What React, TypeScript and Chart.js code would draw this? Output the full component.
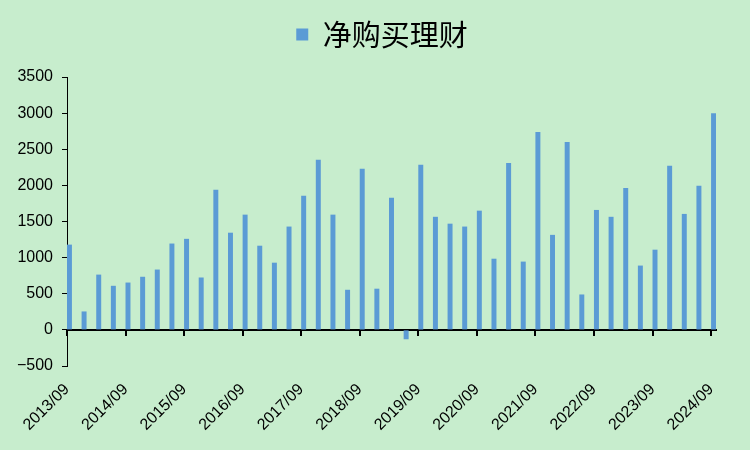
import React, { useEffect, useRef } from 'react';
import { Chart, registerables } from 'chart.js';

Chart.register(...registerables);

const seriesName = '净购买理财';

const quarters = [
  '2013/09', '2013/12',
  '2014/03', '2014/06', '2014/09', '2014/12',
  '2015/03', '2015/06', '2015/09', '2015/12',
  '2016/03', '2016/06', '2016/09', '2016/12',
  '2017/03', '2017/06', '2017/09', '2017/12',
  '2018/03', '2018/06', '2018/09', '2018/12',
  '2019/03', '2019/06', '2019/09', '2019/12',
  '2020/03', '2020/06', '2020/09', '2020/12',
  '2021/03', '2021/06', '2021/09', '2021/12',
  '2022/03', '2022/06', '2022/09', '2022/12',
  '2023/03', '2023/06', '2023/09', '2023/12',
  '2024/03', '2024/06', '2024/09',
];

const netPurchase = [
  1180, 255,
  765, 610, 655, 735,
  835, 1195, 1260, 725,
  1940, 1345, 1595, 1165,
  930, 1430, 1855, 2355,
  1595, 555, 2230, 570,
  1830, -130, 2285, 1565,
  1470, 1430, 1650, 985,
  2310, 945, 2740, 1315,
  2600, 490, 1660, 1565,
  1965, 890, 1110, 2270,
  1605, 1995, 3000,
];

const tickLabels = [
  '2013/09', '2014/09', '2015/09', '2016/09', '2017/09', '2018/09',
  '2019/09', '2020/09', '2021/09', '2022/09', '2023/09', '2024/09',
];

const yMin = -500;
const yMax = 3500;
const yStep = 500;

const BG = '#C7EDCD';
const BAR = '#5B9BD5';
const TICK_FONT = { family: '"Liberation Sans", Arial, sans-serif', size: 16 };

// month offset from the first quarter label (date axis, one-month base unit)
const monthIndex = (label: string) => {
  const [y, m] = label.split('/').map(Number);
  const [y0, m0] = quarters[0].split('/').map(Number);
  return (y - y0) * 12 + (m - m0);
};

const axisMax = monthIndex(quarters[quarters.length - 1]) + 1;
const tickMonths = tickLabels.map(monthIndex);

const keepYearTicks = (scale: any) => {
  scale.ticks = tickMonths.map((v) => ({ value: v }));
};

const PAD_LEFT = 14;
const PLOT_LEFT = 67;
const RIGHT_GAP = 34;

export default function App() {
  const ref = useRef<HTMLCanvasElement | null>(null);

  useEffect(() => {
    if (!ref.current) return;
    const points = quarters.map((q, i) => ({ x: monthIndex(q) + 0.5, y: netPurchase[i] }));
    const chart = new Chart(ref.current, {
      type: 'bar',
      data: {
        datasets: [
          {
            label: seriesName,
            data: points,
            backgroundColor: BAR,
            borderWidth: 0,
            categoryPercentage: 1,
            barPercentage: 0.34,
            xAxisID: 'x',
            yAxisID: 'y',
          },
        ],
      },
      options: {
        responsive: false,
        animation: false,
        layout: { padding: { top: 10, left: PAD_LEFT, right: 0, bottom: 0 } },
        plugins: {
          tooltip: { enabled: false },
          legend: {
            display: true,
            position: 'top',
            labels: {
              boxWidth: 12,
              boxHeight: 12,
              padding: 10,
              color: '#000',
              font: { family: '"Noto Sans CJK SC", sans-serif', size: 29 },
            },
          },
        },
        scales: {
          sp: {
            type: 'linear',
            position: 'top',
            display: true,
            ticks: { display: false },
            grid: { display: false },
            border: { display: false },
            afterFit: (s: any) => {
              s.height = 18;
            },
          },
          spr: {
            type: 'linear',
            position: 'right',
            display: true,
            ticks: { display: false },
            grid: { display: false },
            border: { display: false },
            afterFit: (s: any) => {
              s.width = RIGHT_GAP;
            },
          },
          x: {
            type: 'linear',
            position: 'bottom',
            offset: false,
            min: 0,
            max: axisMax,
            afterBuildTicks: keepYearTicks,
            afterFit: (s: any) => {
              s.height = 84;
            },
            grid: { display: false, offset: false },
            border: { display: false },
            ticks: {
              autoSkip: false,
              minRotation: 45,
              maxRotation: 45,
              color: '#000',
              font: TICK_FONT,
              padding: 6,
              callback: (v: any) => {
                const idx = tickMonths.indexOf(Number(v));
                return idx >= 0 ? tickLabels[idx] : '';
              },
            },
          },
          xz: {
            type: 'linear',
            position: { y: 0 },
            offset: false,
            min: 0,
            max: axisMax,
            z: 1,
            afterBuildTicks: keepYearTicks,
            ticks: { display: false },
            grid: {
              display: true,
              offset: false,
              drawOnChartArea: false,
              drawTicks: true,
              tickLength: 5,
              color: '#000',
              lineWidth: 2,
            },
            border: { display: true, color: '#000', width: 2 },
          },
          y: {
            type: 'linear',
            position: 'left',
            min: yMin,
            max: yMax,
            z: 1,
            afterFit: (s: any) => {
              s.width = PLOT_LEFT - PAD_LEFT;
            },
            ticks: {
              stepSize: yStep,
              color: '#000',
              font: TICK_FONT,
              padding: 9,
              callback: (v: any) => (Number(v) < 0 ? '\u2212' + Math.abs(Number(v)) : String(v)),
            },
            grid: {
              drawOnChartArea: false,
              drawTicks: true,
              tickLength: 5,
              color: '#000',
              tickColor: '#000',
              tickWidth: 1,
            },
            border: { display: true, color: '#000', width: 1 },
          },
        },
      },
    });
    return () => chart.destroy();
  }, []);

  return (
    <div style={{ position: 'fixed', left: 0, top: 0, width: 750, height: 450, background: BG }}>
      <canvas ref={ref} width={750} height={450} style={{ display: 'block' }} />
    </div>
  );
}
